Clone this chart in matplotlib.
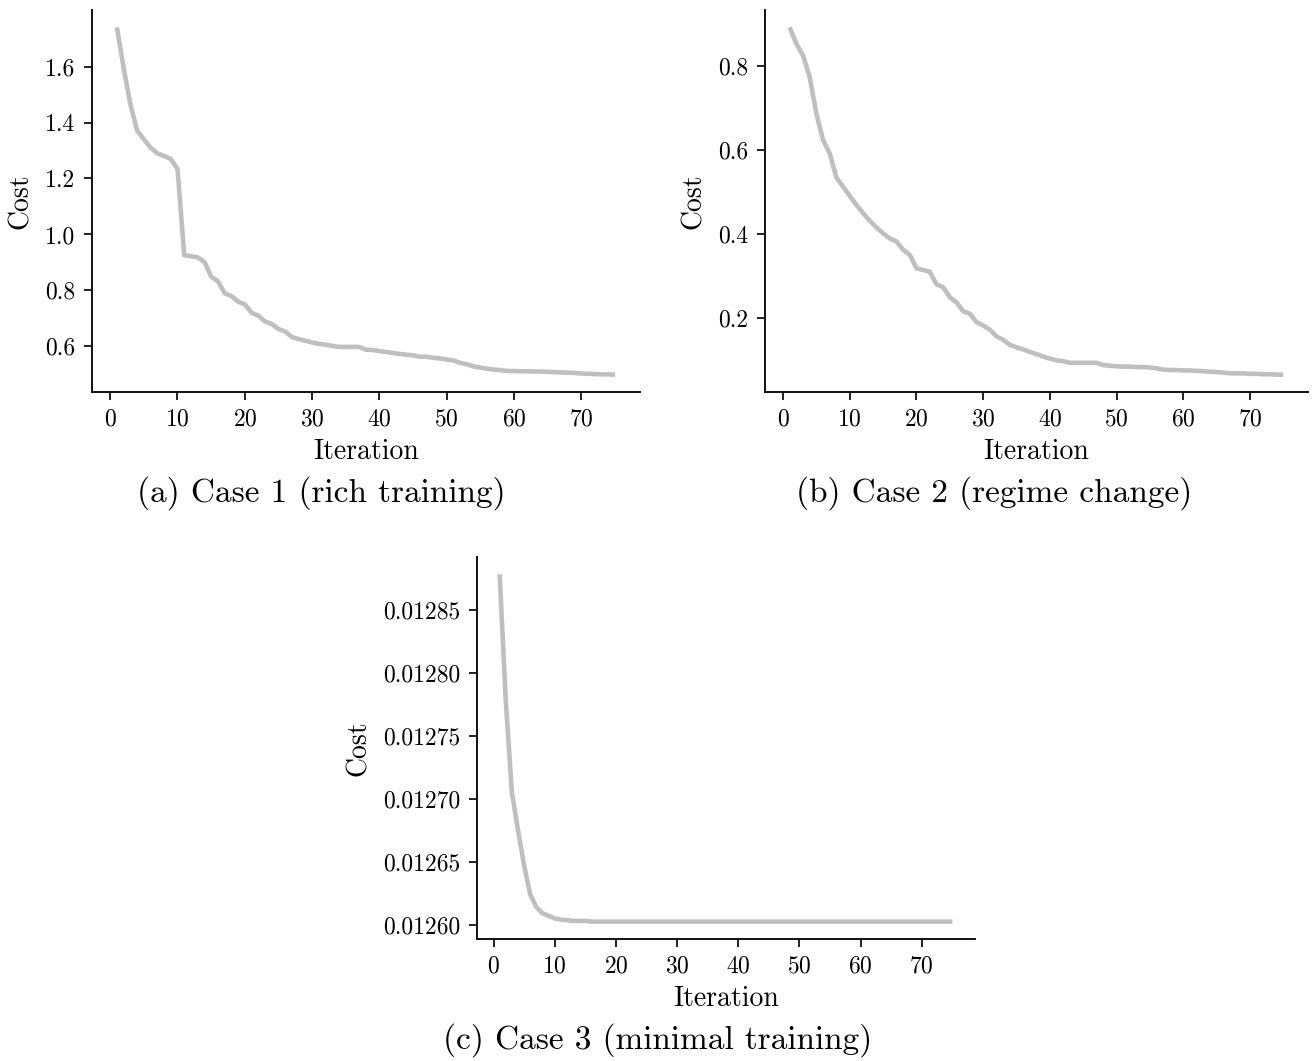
import matplotlib
matplotlib.use("Agg")
import matplotlib.pyplot as plt

plt.rcParams["font.family"] = "serif"
plt.rcParams["font.serif"] = ["cmr10", "DejaVu Serif"]
plt.rcParams["mathtext.fontset"] = "cm"
plt.rcParams["axes.formatter.use_mathtext"] = True

iterations = list(range(1, 76))

cost_rich = [
    1.74, 1.595, 1.465, 1.372, 1.34, 1.31, 1.29, 1.28, 1.27, 1.234,
    0.926, 0.922, 0.918, 0.902, 0.849, 0.833, 0.790, 0.780, 0.760, 0.750,
    0.720, 0.710, 0.689, 0.680, 0.662, 0.653, 0.633, 0.626, 0.620, 0.614,
    0.609, 0.606, 0.602, 0.598, 0.598, 0.598, 0.598, 0.588, 0.587, 0.583,
    0.580, 0.576, 0.573, 0.570, 0.568, 0.563, 0.563, 0.559, 0.557, 0.553,
    0.550, 0.541, 0.536, 0.528, 0.524, 0.520, 0.517, 0.515, 0.512, 0.512,
    0.511, 0.511, 0.510, 0.510, 0.509, 0.508, 0.507, 0.506, 0.505, 0.503,
    0.502, 0.501, 0.500, 0.500, 0.499,
]

cost_regime = [
    0.892, 0.853, 0.825, 0.774, 0.687, 0.624, 0.592, 0.535, 0.513, 0.491,
    0.470, 0.450, 0.432, 0.416, 0.402, 0.390, 0.383, 0.363, 0.351, 0.319,
    0.315, 0.311, 0.281, 0.274, 0.250, 0.238, 0.217, 0.211, 0.191, 0.183,
    0.173, 0.157, 0.149, 0.137, 0.131, 0.126, 0.120, 0.115, 0.109, 0.104,
    0.100, 0.098, 0.094, 0.094, 0.094, 0.094, 0.094, 0.089, 0.087, 0.086,
    0.085, 0.085, 0.084, 0.084, 0.083, 0.081, 0.078, 0.077, 0.077, 0.076,
    0.076, 0.075, 0.074, 0.073, 0.072, 0.071, 0.069, 0.069, 0.069, 0.068,
    0.068, 0.067, 0.067, 0.066, 0.066,
]

cost_minimal = [
    0.012878, 0.012778, 0.012705, 0.012675, 0.012647, 0.012624, 0.012614,
    0.012609, 0.012607, 0.012605, 0.012604, 0.0126035, 0.012603, 0.012603,
    0.012603,
] + [0.0126024] * 60

captions = [
    "(a) Case 1 (rich training)",
    "(b) Case 2 (regime change)",
    "(c) Case 3 (minimal training)",
]
x_ticks = [0, 10, 20, 30, 40, 50, 60, 70]

W, H = 1316, 1061
fig = plt.figure(figsize=(W / 100, H / 100), dpi=100)


def px_axes(left, right, top, bottom):
    return fig.add_axes([left / W, 1 - bottom / H, (right - left) / W, (bottom - top) / H])


LINE_COLOR = "#bfbfbf"


def style(ax, series, yticks, ytick_fmt):
    ax.plot(iterations, series, color=LINE_COLOR, lw=3.3, solid_capstyle="butt")
    ax.spines["top"].set_visible(False)
    ax.spines["right"].set_visible(False)
    for s in ("left", "bottom"):
        ax.spines[s].set_linewidth(1.4)
        ax.spines[s].set_color("#111111")
    ax.tick_params(axis="both", direction="out", length=6, width=1.3,
                   labelsize=17, pad=6, color="#111111")
    ax.set_xticks(x_ticks)
    ax.set_yticks(yticks)
    ax.set_yticklabels([ytick_fmt.format(v) for v in yticks])
    ax.set_xlabel("Iteration", fontsize=20, labelpad=6)
    ax.set_ylabel("Cost", fontsize=20, labelpad=8)


ax_a = px_axes(92, 640, 10, 392)
style(ax_a, cost_rich, [0.6, 0.8, 1.0, 1.2, 1.4, 1.6], "{:.1f}")

ax_b = px_axes(765, 1308, 10, 392)
style(ax_b, cost_regime, [0.2, 0.4, 0.6, 0.8], "{:.1f}")

ax_c = px_axes(477, 975, 557, 939)
style(ax_c, cost_minimal, [0.01260, 0.01265, 0.01270, 0.01275, 0.01280, 0.01285], "{:.5f}")

fig.text(321 / W, 1 - 493 / H, captions[0], fontsize=24, ha="center", va="center")
fig.text(994 / W, 1 - 493 / H, captions[1], fontsize=24, ha="center", va="center")
fig.text(658 / W, 1 - 1040 / H, captions[2], fontsize=24, ha="center", va="center")

fig.savefig("out.png", dpi=100, facecolor="white")
